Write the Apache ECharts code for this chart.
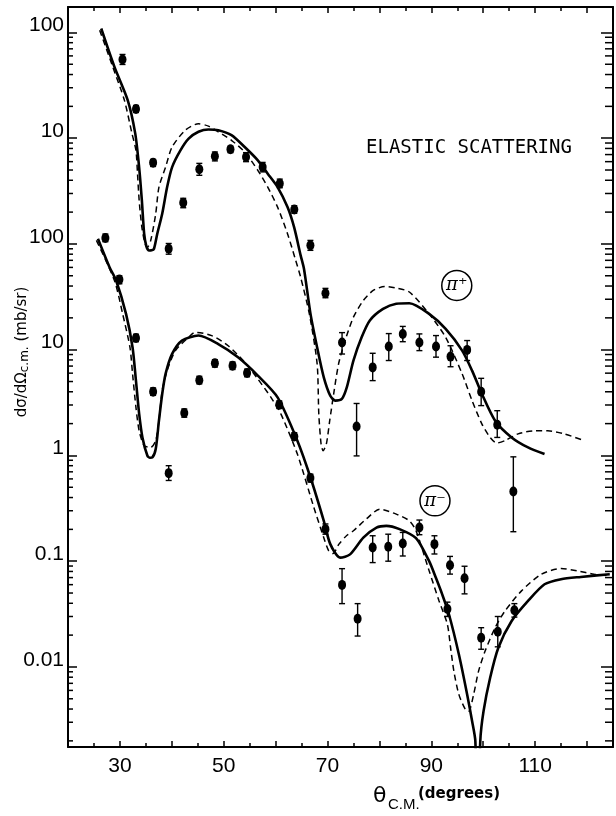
<!DOCTYPE html>
<html>
<head>
<meta charset="utf-8">
<title>Elastic scattering</title>
<script src="https://cdn.jsdelivr.net/npm/echarts@6/dist/echarts.min.js"></script>
<style>
  html, body { margin: 0; padding: 0; background: #fff; }
  #chart { width: 616px; height: 816px; }
</style>
</head>
<body>
<div id="chart"></div>
<script>
// pi+ curves and points are drawn shifted up by two decades (own scale on the upper labels)
const PI_PLUS_SHIFT = 100

const xTickLabels = [30, 50, 70, 90, 110]
const yTickPowers = [4, 3, 2, 1, 0, -1, -2]
const yTickText = ['100', '10', '100', '10', '1', '0.1', '0.01']

// measured points, pi+
const piPlusTheta = [30.5, 33.1, 36.4, 39.4, 42.2, 45.3, 48.3, 51.3, 54.3, 57.5, 60.8, 63.6, 66.7, 69.6, 72.8, 75.6, 78.7, 81.8, 84.5, 87.7, 90.9, 93.7, 96.9, 99.6, 102.7, 105.8]
const piPlusCross = [55.5, 18.9, 5.87, 0.90, 2.45, 5.08, 6.74, 7.85, 6.64, 5.33, 3.72, 2.12, 0.97, 0.342, 0.117, 0.0188, 0.068, 0.107, 0.141, 0.117, 0.107, 0.086, 0.0996, 0.040, 0.0195, 0.00456]
const piPlusLow = [49.8, 17.5, 5.4, 0.80, 2.2, 4.46, 6.1, 7.3, 6.0, 4.8, 3.4, 1.95, 0.87, 0.31, 0.091, 0.0099, 0.051, 0.079, 0.119, 0.098, 0.085, 0.069, 0.079, 0.0296, 0.0148, 0.0019]
const piPlusHigh = [61.9, 20.4, 6.3, 1.01, 2.7, 5.78, 7.4, 8.4, 7.3, 5.9, 4.1, 2.3, 1.08, 0.38, 0.145, 0.031, 0.0925, 0.142, 0.166, 0.141, 0.136, 0.109, 0.122, 0.0536, 0.0265, 0.0097]

// measured points, pi-
const piMinusTheta = [27.2, 29.9, 33.1, 36.4, 39.4, 42.4, 45.3, 48.3, 51.7, 54.5, 60.7, 63.6, 66.7, 69.6, 72.8, 75.8, 78.7, 81.7, 84.5, 87.7, 90.6, 93.1, 93.6, 96.4, 99.6, 102.8, 106.0]
const piMinusCross = [114, 46, 12.9, 4.0, 0.68, 2.52, 5.15, 7.43, 7.06, 6.03, 3.02, 1.51, 0.611, 0.201, 0.0597, 0.0286, 0.1345, 0.137, 0.147, 0.208, 0.145, 0.0353, 0.0917, 0.069, 0.0189, 0.0215, 0.0344]
const piMinusLow = [105, 42, 11.9, 3.7, 0.58, 2.3, 4.75, 6.85, 6.5, 5.55, 2.78, 1.39, 0.56, 0.18, 0.0397, 0.0196, 0.097, 0.10, 0.112, 0.178, 0.117, 0.030, 0.0755, 0.0491, 0.0147, 0.0155, 0.0296]
const piMinusHigh = [124, 50, 14, 4.35, 0.80, 2.75, 5.6, 8.05, 7.65, 6.55, 3.28, 1.64, 0.665, 0.225, 0.085, 0.0397, 0.174, 0.18, 0.187, 0.245, 0.174, 0.041, 0.111, 0.0896, 0.0235, 0.030, 0.0397]

// model curves [theta, dsigma/dOmega]
const piPlusSolid = [[26.4, 109], [28.95, 47.2], [31.5, 22.9], [32.95, 11.1], [33.7, 5.33], [34.23, 2.58], [34.67, 1.25], [35.1, 0.95], [35.62, 0.867], [36.1, 0.87], [36.57, 0.901], [37.2, 1.25], [38.15, 1.93], [39.1, 3.45], [40.06, 5.33], [41.66, 7.67], [43.24, 9.91], [45.14, 11.5], [47.05, 12.1], [48.95, 11.9], [51.49, 10.7], [54.04, 8.26], [56.57, 6.18], [58.48, 4.62], [60.38, 3.45], [62.29, 2.23], [63.56, 1.44], [64.82, 0.78], [65.47, 0.58], [66.72, 0.218], [68.0, 0.105], [69.28, 0.0548], [70.53, 0.0367], [71.49, 0.033], [72.76, 0.0342], [73.71, 0.044], [74.99, 0.0789], [76.57, 0.131], [78.15, 0.189], [80.7, 0.243], [83.24, 0.272], [85.77, 0.275], [89.58, 0.218], [92.76, 0.157], [95.94, 0.098], [97.85, 0.0634], [99.75, 0.0381], [102.29, 0.0213], [105.47, 0.0148], [108.63, 0.0119], [111.81, 0.0103]]
const piPlusDashed = [[26.1, 105], [28.63, 47.2], [30.86, 22.9], [32.32, 11.1], [33.09, 7.67], [33.39, 4.62], [33.71, 2.58], [34.23, 1.44], [34.86, 1.0], [35.3, 0.933], [35.94, 1.08], [36.9, 1.93], [37.52, 3.45], [38.8, 5.33], [40.06, 8.26], [42.61, 11.9], [45.14, 13.7], [47.05, 13.0], [48.95, 11.5], [51.49, 9.55], [54.04, 7.4], [56.57, 4.97], [58.48, 3.45], [60.38, 2.23], [62.29, 1.25], [63.87, 0.698], [64.82, 0.485], [66.5, 0.218], [68.0, 0.0734], [68.32, 0.0247], [68.76, 0.0128], [69.14, 0.0111], [69.77, 0.0128], [70.42, 0.0213], [71.18, 0.0381], [72.13, 0.0734], [73.39, 0.122], [74.99, 0.203], [76.9, 0.292], [78.8, 0.363], [81.01, 0.396], [83.24, 0.383], [85.77, 0.351], [89.58, 0.218], [92.76, 0.131], [95.94, 0.059], [97.85, 0.033], [99.75, 0.0198], [101.33, 0.0148], [102.6, 0.0131], [104.19, 0.0138], [106.72, 0.016], [109.9, 0.0171], [112.44, 0.0171], [115.62, 0.016], [119.43, 0.0138]]
const piMinusSolid = [[25.77, 112], [28.0, 60.3], [29.27, 45.1], [31.18, 21.8], [32.44, 10.5], [33.09, 5.1], [33.71, 2.47], [34.34, 1.48], [35.3, 0.993], [35.8, 0.95], [36.25, 0.957], [36.9, 1.15], [37.52, 2.13], [38.15, 3.81], [38.8, 5.9], [40.06, 9.12], [41.96, 12.2], [45.14, 13.6], [48.95, 11.3], [52.76, 8.47], [56.57, 5.69], [60.38, 3.54], [64.19, 1.38], [66.72, 0.619], [69.28, 0.241], [70.53, 0.145], [72.44, 0.108], [74.34, 0.116], [76.9, 0.167], [79.43, 0.208], [81.33, 0.216], [83.87, 0.201], [87.05, 0.165], [89.58, 0.1], [90.86, 0.07], [92.13, 0.048], [93.39, 0.0315], [95.3, 0.0132], [96.9, 0.0055], [97.85, 0.00308], [98.48, 0.00199], [98.95, 0.0002], [99.43, 0.00199], [100.06, 0.00382], [101.33, 0.0079], [102.91, 0.0152], [105.47, 0.0272], [108.63, 0.0421], [111.81, 0.0605], [114.99, 0.0676], [118.8, 0.071], [124.38, 0.0753]]
const piMinusDashed = [[25.47, 108], [28.95, 45.1], [30.53, 21.8], [31.94, 10.5], [32.44, 5.9], [33.09, 2.85], [33.71, 1.71], [34.67, 1.24], [35.94, 1.19], [36.9, 1.38], [37.52, 2.13], [38.15, 4.1], [39.1, 6.34], [40.7, 9.8], [43.24, 13.1], [44.51, 14.6], [47.68, 13.6], [50.86, 10.9], [54.04, 7.6], [56.57, 5.29], [59.1, 3.54], [61.01, 2.47], [64.19, 1.03], [67.37, 0.322], [69.28, 0.167], [70.23, 0.125], [71.05, 0.118], [72.2, 0.145], [73.7, 0.175], [75.0, 0.194], [77.52, 0.252], [80.06, 0.31], [83.24, 0.279], [85.77, 0.241], [87.05, 0.194], [89.58, 0.081], [91.49, 0.0421], [93.09, 0.0253], [93.71, 0.0152], [94.34, 0.00914], [95.3, 0.0055], [96.57, 0.00396], [97.2, 0.00382], [98.15, 0.0055], [99.1, 0.00914], [100.38, 0.0142], [102.29, 0.0235], [104.19, 0.0338], [107.37, 0.0524], [111.18, 0.0753], [114.99, 0.0851], [118.15, 0.081], [121.33, 0.0753], [124.38, 0.0726]]

// circled labels, in data coords of their own curve set
const piPlusLabelAt = [94.9, 0.405]
const piMinusLabelAt = [90.7, 0.372]

const X_MIN = 20
const X_MAX = 125
const Y_MIN = 0.00175
const Y_MAX = 17400

const shift = (pts) => pts.map(([x, y]) => [x, y * PI_PLUS_SHIFT])

const yMinorTicks = []
for (let p = -3; p <= 4; p++) {
  for (let m = 2; m <= 9; m++) {
    const v = m * Math.pow(10, p)
    if (v > Y_MIN && v < Y_MAX) yMinorTicks.push([X_MIN, v])
  }
}

const renderErrorBar = (params, api) => {
  const lo = api.coord([api.value(0), api.value(1)])
  const hi = api.coord([api.value(0), api.value(2)])
  const w = 3
  const style = { stroke: '#000', lineWidth: 1.4 }
  return {
    type: 'group',
    children: [
      { type: 'line', shape: { x1: lo[0], y1: lo[1], x2: hi[0], y2: hi[1] }, style },
      { type: 'line', shape: { x1: lo[0] - w, y1: lo[1], x2: lo[0] + w, y2: lo[1] }, style },
      { type: 'line', shape: { x1: hi[0] - w, y1: hi[1], x2: hi[0] + w, y2: hi[1] }, style }
    ]
  }
}

const renderMinorTick = (params, api) => {
  const y = api.coord([X_MIN, api.value(1)])[1]
  const cs = params.coordSys
  const style = { stroke: '#000', lineWidth: 1.5 }
  return {
    type: 'group',
    children: [
      { type: 'line', shape: { x1: cs.x, y1: y, x2: cs.x + 5, y2: y }, style },
      { type: 'line', shape: { x1: cs.x + cs.width - 8, y1: y, x2: cs.x + cs.width, y2: y }, style }
    ]
  }
}

const yLabel = (v) => {
  const p = Math.log10(v)
  if (Math.abs(p - Math.round(p)) > 1e-6) return ''
  const i = yTickPowers.indexOf(Math.round(p))
  return i >= 0 ? yTickText[i] : ''
}

const chart = echarts.init(document.getElementById('chart'))

const xAxisBase = {
  type: 'value',
  min: X_MIN,
  max: X_MAX,
  interval: 10,
  axisLine: { lineStyle: { color: '#000', width: 2 } },
  axisTick: { inside: true, length: 6, lineStyle: { color: '#000', width: 1.5 } },
  minorTick: { show: true, splitNumber: 2, length: 4, lineStyle: { color: '#000', width: 1.5 } },
  splitLine: { show: false },
  minorSplitLine: { show: false }
}

const yAxisBase = {
  type: 'log',
  logBase: 10,
  min: Y_MIN,
  max: Y_MAX,
  splitNumber: 8,
  axisLine: { show: true, lineStyle: { color: '#000', width: 2 } },
  splitLine: { show: false }
}

const option = {
  backgroundColor: '#fff',
  animation: false,
  grid: { left: 68, top: 7, width: 551, height: 740 },
  xAxis: [
    {
      ...xAxisBase,
      position: 'bottom',
      axisLabel: {
        formatter: (v) => (xTickLabels.includes(v) ? String(v) : ''),
        color: '#000',
        fontSize: 21,
        fontFamily: 'Liberation Sans',
        margin: 9
      }
    },
    { ...xAxisBase, position: 'top', axisLabel: { show: false } }
  ],
  yAxis: [
    {
      ...yAxisBase,
      position: 'left',
      axisTick: { inside: true, length: 9, lineStyle: { color: '#000', width: 1.5 } },
      axisLabel: {
        formatter: yLabel,
        color: '#000',
        fontSize: 21,
        fontFamily: 'Liberation Sans',
        margin: 4,
        verticalAlign: 'bottom',
        lineHeight: 14
      }
    },
    {
      ...yAxisBase,
      position: 'right',
      axisTick: { inside: true, length: 12, lineStyle: { color: '#000', width: 1.5 } },
      axisLabel: { show: false }
    }
  ],
  graphic: [
    {
      type: 'text',
      left: 366,
      top: 139,
      style: { text: 'ELASTIC SCATTERING', fontSize: 19, fontFamily: 'DejaVu Sans Mono', fill: '#000' }
    },
    {
      type: 'text',
      x: 22,
      y: 352,
      rotation: Math.PI / 2,
      style: {
        text: '{a|dσ/dΩ}{b|c.m.}{a| (mb/sr)}',
        align: 'center',
        verticalAlign: 'middle',
        fill: '#000',
        rich: {
          a: { fontSize: 15, fontFamily: 'DejaVu Sans' },
          b: { fontSize: 12, fontFamily: 'DejaVu Sans', padding: [5, 0, 0, 0] }
        }
      }
    },
    { type: 'text', left: 373, top: 785, style: { text: 'θ', fontSize: 22, fontFamily: 'DejaVu Sans', fill: '#000' } },
    { type: 'text', left: 388, top: 797, style: { text: 'C.M.', fontSize: 15, fontFamily: 'Liberation Sans', fill: '#000' } },
    { type: 'text', left: 418, top: 787, style: { text: '(degrees)', fontSize: 15, fontWeight: 'bold', fontFamily: 'DejaVu Sans', fill: '#000' } }
  ],
  series: [
    {
      name: 'pi+ fit A',
      type: 'line',
      data: shift(piPlusSolid),
      showSymbol: false,
      smooth: 0.25,
      lineStyle: { color: '#000', width: 2.6 }
    },
    {
      name: 'pi+ fit B',
      type: 'line',
      data: shift(piPlusDashed),
      showSymbol: false,
      smooth: 0.25,
      lineStyle: { color: '#000', width: 1.5, type: [6, 4] }
    },
    {
      name: 'pi- fit A',
      type: 'line',
      data: piMinusSolid,
      showSymbol: false,
      smooth: 0.25,
      lineStyle: { color: '#000', width: 2.6 }
    },
    {
      name: 'pi- fit B',
      type: 'line',
      data: piMinusDashed,
      showSymbol: false,
      smooth: 0.25,
      lineStyle: { color: '#000', width: 1.5, type: [6, 4] }
    },
    {
      name: 'pi+ errors',
      type: 'custom',
      renderItem: renderErrorBar,
      encode: { x: 0, y: [1, 2] },
      data: piPlusTheta.map((t, i) => [t, piPlusLow[i] * PI_PLUS_SHIFT, piPlusHigh[i] * PI_PLUS_SHIFT]),
      z: 3
    },
    {
      name: 'pi- errors',
      type: 'custom',
      renderItem: renderErrorBar,
      encode: { x: 0, y: [1, 2] },
      data: piMinusTheta.map((t, i) => [t, piMinusLow[i], piMinusHigh[i]]),
      z: 3
    },
    {
      name: 'pi+ data',
      type: 'scatter',
      data: piPlusTheta.map((t, i) => [t, piPlusCross[i] * PI_PLUS_SHIFT]),
      symbol: 'circle',
      symbolSize: [8, 10],
      itemStyle: { color: '#000', opacity: 1 },
      z: 4
    },
    {
      name: 'pi- data',
      type: 'scatter',
      data: piMinusTheta.map((t, i) => [t, piMinusCross[i]]),
      symbol: 'circle',
      symbolSize: [8, 10],
      itemStyle: { color: '#000', opacity: 1 },
      z: 4
    },
    {
      name: 'labels',
      type: 'scatter',
      data: [
        [piPlusLabelAt[0], piPlusLabelAt[1] * PI_PLUS_SHIFT, 'π⁺'],
        [piMinusLabelAt[0], piMinusLabelAt[1], 'π⁻']
      ],
      symbol: 'circle',
      symbolSize: 30,
      itemStyle: { color: '#fff', borderColor: '#000', borderWidth: 1.5, opacity: 1 },
      label: {
        show: true,
        position: 'inside',
        formatter: (p) => p.data[2],
        color: '#000',
        fontSize: 18,
        fontStyle: 'italic',
        fontFamily: 'DejaVu Serif'
      },
      z: 5
    },
    {
      name: 'minor ticks',
      type: 'custom',
      renderItem: renderMinorTick,
      encode: { x: 0, y: 1 },
      data: yMinorTicks,
      silent: true,
      clip: false,
      z: 6
    }
  ]
}

chart.setOption(option)
</script>
</body>
</html>
